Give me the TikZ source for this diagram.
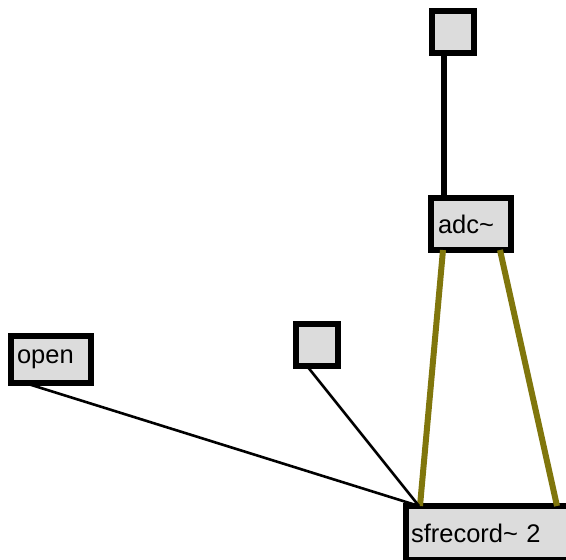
\documentclass[tikz,border=0pt]{standalone}
\usepackage{fontspec}
\setmainfont{Liberation Sans}
\usetikzlibrary{arrows.meta}
\usetikzlibrary{calc}

\definecolor{boxgray}{RGB}{220,220,220}
\definecolor{sigolive}{RGB}{128,118,12}

\begin{document}
\begin{tikzpicture}[x=1pt, y=-1pt,
        box_style/.style={rectangle,draw=black,fill=boxgray,line width=6pt,inner sep=0pt,font=\fontsize{25.5}{26}\selectfont},
        bang_style/.style={box_style,minimum width=42pt,minimum height=42pt},
        msg_edge_style/.style={draw=black, line width=2.6pt},
        bang_edge_style/.style={draw=black, line width=6pt},
        sig_edge_style/.style={draw=sigolive, line width=6pt}]

        \useasboundingbox (0,0) rectangle (566,560);

        \node [bang_style](bang1) at (453,32) {};

        \node [box_style,minimum width=80pt,minimum height=52pt,text width=72pt,align=left](adc) at (471,224) {\hspace*{3pt}adc\char`~};

        \node [box_style,minimum width=80pt,minimum height=47pt,text width=72pt,align=left](open) at (51,359.5) {\hspace*{2pt}open};

        \node [bang_style](bang2) at (317,345) {};

        \node [box_style,minimum width=166pt,minimum height=54pt,text width=158pt,align=left](sfrec) at (489,533) {\hspace*{1pt}sfrecord\char`~{} 2};

        \draw [bang_edge_style] ([xshift=15pt,yshift=3pt]bang1.south west) -- ([xshift=16pt,yshift=-3pt]adc.north west);

        \draw [sig_edge_style] ([xshift=15pt,yshift=3pt]adc.south west) -- ([xshift=17pt,yshift=-3pt]sfrec.north west);

        \draw [sig_edge_style] ([xshift=-14pt,yshift=3pt]adc.south east) -- ([xshift=154pt,yshift=-3pt]sfrec.north west);

        \draw [msg_edge_style] ([xshift=17pt,yshift=3pt]open.south west) -- ([xshift=16pt,yshift=-3pt]sfrec.north west);

        \draw [msg_edge_style] ([xshift=14pt,yshift=3pt]bang2.south west) -- ([xshift=16pt,yshift=-3pt]sfrec.north west);

\end{tikzpicture}
\end{document}
